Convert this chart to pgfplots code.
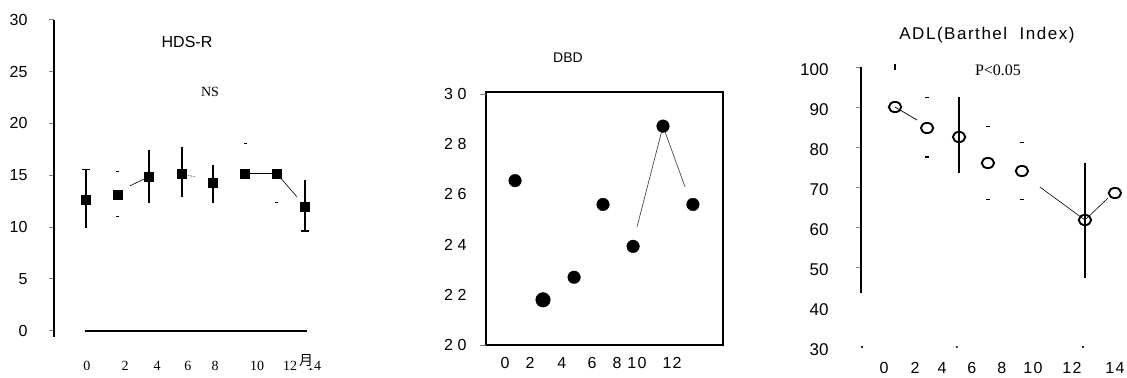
\documentclass[border=0pt]{standalone}
\usepackage{pgfplots}
\pgfplotsset{compat=1.18}
\usepackage{fontspec}
\setmainfont{Liberation Sans}
\newfontfamily\serif{Liberation Serif}
\newfontfamily\cjk{Noto Sans CJK JP}
\newfontfamily\wide[LetterSpace=28]{Liberation Sans}
\newfontfamily\semiwide[LetterSpace=8]{Liberation Sans}

\pgfplotsset{
  panel/.style={
    scale only axis, clip=false,
    /pgf/number format/assume math mode=true,
    anchor=south west,
  },
}

\begin{document}
\begin{tikzpicture}[x=1bp,y=1bp]
\useasboundingbox (0,0) rectangle (1127,377);

% ---------------- HDS-R ----------------
\begin{axis}[panel,
  at={(54bp,40bp)}, width=278.3bp, height=317.3bp,
  xmin=-1.95, xmax=14.5, ymin=-0.6, ymax=30,
  axis y line=left, axis x line=bottom,
  y axis line style={line width=1.6bp,-},
  x axis line style={draw=none},
  xtick style={draw=none},
  ytick={0,5,...,30},
  ytick style={line width=1bp},
  tick align=outside, major tick length=5bp,
  yticklabel style={font=\fontsize{16bp}{18bp}\selectfont, anchor=east, xshift=-18bp},
  xtick={0,2.25,4.14,5.97,7.57,10.05,12,13.42},
  xticklabels={0,2,4,6,8,10,12,14},
  xticklabel style={font=\serif\fontsize{14bp}{16bp}\selectfont, anchor=center, yshift=-24bp},
]
% zero line
\addplot[line width=1.6bp] coordinates {(-0.12,0) (13.0,0)};
% connecting segments
\addplot[line width=0.6bp] coordinates {(2.54,13.98) (3.66,14.85)};
\addplot[line width=0.6bp, densely dotted] coordinates {(5.61,15.14) (6.38,14.85)};
\addplot[line width=1bp] coordinates {(9.34,15.14) (11.23,15.14)};
\addplot[line width=0.6bp] coordinates {(11.23,15.14) (12.41,12.92)};
% means with SD
\addplot[only marks, mark=square*, mark size=4.5bp, black,
  error bars/.cd, y dir=both, y explicit, error mark=none,
  error bar style={line width=1.8bp}]
  table[x=x, y=y, y error plus=ep, y error minus=em] {
  x      y      ep    em
  -0.06  12.63  2.90  2.70
  3.66   14.85  2.60  2.51
  5.61   15.14  2.60  2.22
  7.45   14.27  1.73  1.93
  12.88  11.96  2.60  2.32
};
\addplot[only marks, mark=square*, mark size=4.5bp, black]
  coordinates {(1.83,13.11) (9.34,15.14) (11.23,15.14)};
% caps
\addplot[only marks, mark=-, mark size=4bp, line width=1.4bp]
  coordinates {(-0.06,15.53) (12.88,9.64)};
% faint bar ends
\addplot[only marks, mark=-, mark size=1.5bp, line width=0.9bp]
  coordinates {(1.83,15.33) (1.83,11.0) (9.34,18.1) (11.23,12.34)};
\end{axis}
\node[font=\fontsize{16bp}{18bp}\selectfont] at (187,335) {HDS-R};
\node[font=\serif\fontsize{14bp}{16bp}\selectfont] at (210,285) {NS};
\node[font=\cjk\fontsize{14bp}{16bp}\selectfont, fill=white, inner sep=0.5bp] at (306,16) {月};

% ---------------- DBD ----------------
\begin{axis}[panel,
  at={(486bp,32bp)}, width=237bp, height=253bp,
  xmin=-1.365, xmax=15.66, ymin=20, ymax=30.08,
  axis line style={line width=1.6bp},
  tick pos=left,
  ytick={20,22,...,30},
  major tick length=0bp,
  extra y ticks={20,30}, extra y tick labels={},
  extra y tick style={major tick length=6bp, tick align=outside, ytick style={line width=1bp}},
  yticklabel style={font=\wide\fontsize{16bp}{18bp}\selectfont, anchor=east, xshift=-16bp},
  xtick={0,1.8,4.09,6.25,8.05,9.48,12},
  xticklabels={0,2,4,6,8,10,12},
  xticklabel style={font=\semiwide\fontsize{16bp}{18bp}\selectfont, anchor=center, yshift=-18bp},
]
\addplot[gray!60!black, line width=0.7bp] coordinates {(9.48,24.7) (11.35,28.72) (12.93,26.3)};
\addplot[only marks, mark=*, mark size=6.3bp, black] table {
  0.72  26.55
  4.96  22.7
  7.04  25.6
  9.2   23.93
  11.35 28.72
  13.5  25.6
};
\addplot[only marks, mark=*, mark size=7.3bp, black] coordinates {(2.73,21.8)};
\end{axis}
\node[font=\fontsize{14bp}{16bp}\selectfont] at (568,319) {DBD};

% ---------------- ADL ----------------
\begin{axis}[panel,
  at={(861bp,30bp)}, width=266bp, height=280bp,
  xmin=-1.39, xmax=14.73, ymin=30, ymax=100,
  axis y line=left, axis x line=bottom,
  axis line style={draw=none},
  ytick={30,40,...,100},
  major tick length=0bp,
  extra y ticks={50,60,...,100}, extra y tick labels={},
  extra y tick style={major tick length=5bp, tick align=outside, ytick style={line width=1bp}},
  xtick style={draw=none},
  yticklabel style={font=\fontsize{17bp}{19bp}\selectfont, anchor=east, xshift=-29bp, yshift=-3bp},
  xtick={0,1.88,3.52,5.33,7.15,9.03,11.39,14},
  xticklabels={0,2,4,6,8,10,12,14},
  xticklabel style={font=\semiwide\fontsize{16bp}{18bp}\selectfont, anchor=center, yshift=-21bp},
]
% partial axis line
\addplot[line width=1.8bp] coordinates {(-1.39,43.5) (-1.39,100)};
% connecting segments
\addplot[line width=0.7bp] coordinates {(0.67,90.0) (2.0,86.75)};
\addplot[line width=0.6bp] coordinates {(9.45,70.0) (12.18,61.75) (13.58,67.25)};
% SD bars
\addplot[draw=none, mark=none,
  error bars/.cd, y dir=both, y explicit, error mark=none,
  error bar style={line width=1.8bp}]
  table[x=x, y=y, y error plus=ep, y error minus=em] {
  x      y      ep     em
  4.55   82.5   10.0   9.0
  12.18  61.75  14.25  14.5
};
% faint bar ends
\addplot[only marks, mark=|, mark size=3bp, line width=2bp] coordinates {(0.67,100)};
\addplot[only marks, mark=-, mark size=1.6bp, line width=1bp]
  coordinates {(2.61,92.5) (6.30,85.25) (6.30,67) (8.36,81.25) (8.36,67)};
\addplot[only marks, mark=-, mark size=2bp, line width=1.8bp] coordinates {(2.61,77.5)};
\addplot[only marks, mark=*, mark size=0.8bp] coordinates {(-1.33,30) (4.42,30) (12.06,30)};
% means
\addplot[only marks, mark=o, mark size=6.2bp, line width=1.9bp, black,
  mark options={fill=white, yscale=0.82}] table {
  0.67   90.0
  2.61   84.75
  4.55   82.5
  6.30   76.0
  8.36   74.0
  12.18  61.75
  14.0   68.5
};
\end{axis}
\node[font=\fontsize{17bp}{19bp}\selectfont] at (987,342) {\addfontfeatures{LetterSpace=9}ADL(Barthel\ \ Index)};
\node[font=\serif\fontsize{16bp}{18bp}\selectfont] at (998,307) {P<0.05};
\end{tikzpicture}
\end{document}
